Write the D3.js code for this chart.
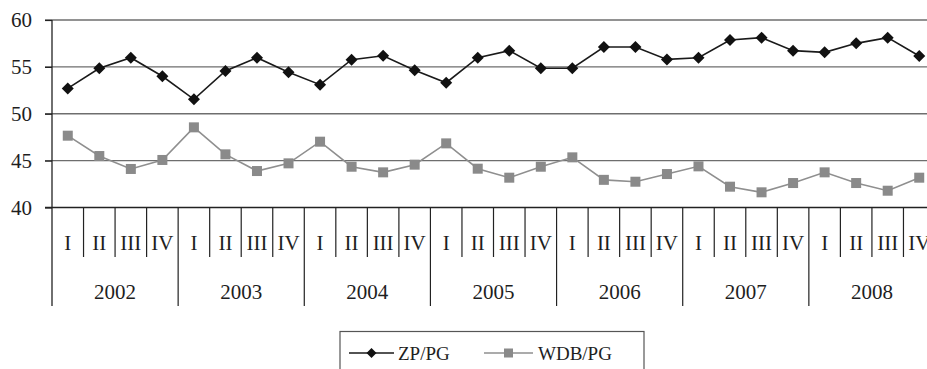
<!DOCTYPE html>
<html>
<head>
<meta charset="utf-8">
<script src="https://cdn.jsdelivr.net/npm/d3@7"></script>
<style>
  html, body { margin: 0; padding: 0; background: #fff; }
  svg { display: block; font-family: "Liberation Serif", "Times New Roman", serif; }
</style>
</head>
<body>
<svg id="chart" width="927" height="369"></svg>
<script>
// Quarterly ratios, 2002–2008
const years = ["2002", "2003", "2004", "2005", "2006", "2007", "2008"];
const quarters = ["I", "II", "III", "IV"];
const zpPg = [
  52.7, 54.85, 55.98, 54.0,
  51.54, 54.56, 55.98, 54.42,
  53.1, 55.77, 56.19, 54.63,
  53.31, 55.98, 56.73, 54.85,
  54.85, 57.12, 57.12, 55.8,
  55.98, 57.87, 58.12, 56.73,
  56.55, 57.51, 58.12, 56.16
];
const wdbPg = [
  47.66, 45.49, 44.11, 45.07,
  48.55, 45.67, 43.89, 44.71,
  47.02, 44.35, 43.75, 44.57,
  46.84, 44.14, 43.18, 44.35,
  45.35, 42.95, 42.75, 43.57,
  44.39, 42.22, 41.62, 42.61,
  43.75, 42.61, 41.79, 43.18
];
const yTicks = [40, 45, 50, 55, 60];
const seriesNames = ["ZP/PG", "WDB/PG"];

const svg = d3.select("#chart");
const plotLeft = 52, plotRight = 935, plotTop = 20, plotBottom = 207.5;

const keys = [];
years.forEach(yr => quarters.forEach(q => keys.push(yr + "-" + q)));

const x = d3.scaleBand().domain(keys).range([plotLeft, plotRight]).padding(0);
const xYear = d3.scaleBand().domain(years).range([plotLeft, plotRight]).padding(0);
const y = d3.scaleLinear().domain([40, 60]).range([plotBottom, plotTop]);

// horizontal gridlines
svg.append("g").selectAll("line")
  .data(yTicks.filter(t => t > 40))
  .join("line")
  .attr("x1", plotLeft - 7).attr("x2", plotRight)
  .attr("y1", d => y(d)).attr("y2", d => y(d))
  .attr("stroke", "#6e6e6e").attr("stroke-width", 1.3);

// y axis labels + ticks
const yAxis = d3.axisLeft(y).tickValues(yTicks).tickSize(7).tickPadding(13);
const gy = svg.append("g").attr("transform", `translate(${plotLeft},0)`).call(yAxis);
gy.select(".domain").remove();
gy.selectAll(".tick line").attr("stroke", "#222").attr("stroke-width", 1.2);
gy.selectAll(".tick text")
  .attr("fill", "#1e1e1e")
  .style("font-family", "'Liberation Serif', serif")
  .style("font-size", "21px");

// vertical axis line, extended down through the category rows
svg.append("line")
  .attr("x1", plotLeft).attr("x2", plotLeft)
  .attr("y1", plotTop).attr("y2", 306)
  .attr("stroke", "#222").attr("stroke-width", 1.3);

// horizontal axis at 40
svg.append("line")
  .attr("x1", plotLeft - 7).attr("x2", plotRight)
  .attr("y1", plotBottom).attr("y2", plotBottom)
  .attr("stroke", "#222").attr("stroke-width", 1.3);

// quarter dividers
svg.append("g").selectAll("line")
  .data(keys.filter((k, i) => i % 4 !== 0))
  .join("line")
  .attr("x1", d => x(d)).attr("x2", d => x(d))
  .attr("y1", plotBottom).attr("y2", 257)
  .attr("stroke", "#222").attr("stroke-width", 1.2);

// year dividers
svg.append("g").selectAll("line")
  .data(years.slice(1).concat(["end"]))
  .join("line")
  .attr("x1", d => d === "end" ? plotRight : xYear(d))
  .attr("x2", d => d === "end" ? plotRight : xYear(d))
  .attr("y1", plotBottom).attr("y2", 306)
  .attr("stroke", "#222").attr("stroke-width", 1.2);

// quarter labels
svg.append("g").selectAll("text")
  .data(keys)
  .join("text")
  .attr("x", d => x(d) + x.bandwidth() / 2)
  .attr("y", 243)
  .attr("text-anchor", "middle")
  .attr("dominant-baseline", "central")
  .attr("fill", "#1e1e1e")
  .style("font-size", "21px")
  .text(d => d.split("-")[1]);

// year labels
svg.append("g").selectAll("text")
  .data(years)
  .join("text")
  .attr("x", d => xYear(d) + xYear.bandwidth() / 2)
  .attr("y", 292)
  .attr("text-anchor", "middle")
  .attr("dominant-baseline", "central")
  .attr("fill", "#1e1e1e")
  .style("font-size", "21px")
  .text(d => d);

const cx = (d, i) => x(keys[i]) + x.bandwidth() / 2;
const line = d3.line().x((d, i) => cx(d, i)).y(d => y(d));

// WDB/PG series
svg.append("path").datum(wdbPg)
  .attr("d", line).attr("fill", "none")
  .attr("stroke", "#8f8f8f").attr("stroke-width", 1.6);
svg.append("g").selectAll("rect").data(wdbPg).join("rect")
  .attr("x", (d, i) => cx(d, i) - 5).attr("y", d => y(d) - 5)
  .attr("width", 10).attr("height", 10)
  .attr("fill", "#8a8a8a");

// ZP/PG series
svg.append("path").datum(zpPg)
  .attr("d", line).attr("fill", "none")
  .attr("stroke", "#1a1a1a").attr("stroke-width", 1.6);
const diamond = "M0,-6L6,0L0,6L-6,0Z";
svg.append("g").selectAll("path").data(zpPg).join("path")
  .attr("d", diamond)
  .attr("transform", (d, i) => `translate(${cx(d, i)},${y(d)})`)
  .attr("fill", "#111");

// legend
const lg = svg.append("g");
lg.append("rect")
  .attr("x", 340).attr("y", 331.5).attr("width", 304).attr("height", 60)
  .attr("fill", "none").attr("stroke", "#555").attr("stroke-width", 1.2);

const legendItems = [
  { name: seriesNames[0], x0: 349, x1: 394, tx: 398, color: "#1a1a1a", shape: "diamond" },
  { name: seriesNames[1], x0: 484, x1: 533, tx: 538, color: "#8f8f8f", shape: "square" }
];
const ly = 353;
legendItems.forEach(it => {
  lg.append("line").attr("x1", it.x0).attr("x2", it.x1).attr("y1", ly).attr("y2", ly)
    .attr("stroke", it.color).attr("stroke-width", 1.6);
  const mx = (it.x0 + it.x1) / 2;
  if (it.shape === "diamond") {
    lg.append("path").attr("d", "M0,-5L5,0L0,5L-5,0Z")
      .attr("transform", `translate(${mx},${ly})`).attr("fill", "#111");
  } else {
    lg.append("rect").attr("x", mx - 4.5).attr("y", ly - 4.5)
      .attr("width", 9).attr("height", 9).attr("fill", "#8a8a8a");
  }
  lg.append("text").attr("x", it.tx).attr("y", ly)
    .attr("dominant-baseline", "central")
    .attr("fill", "#1e1e1e").style("font-size", "19px")
    .text(it.name);
});
</script>
</body>
</html>
